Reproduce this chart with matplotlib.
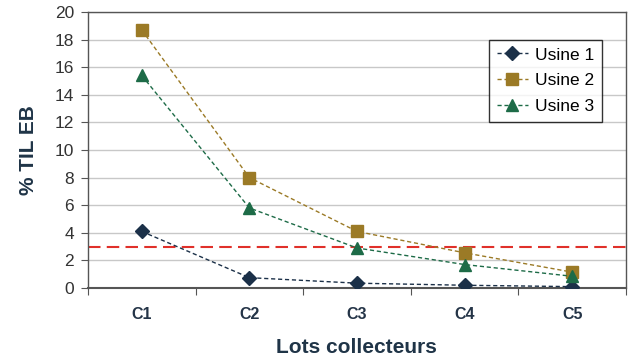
import matplotlib.pyplot as plt
from matplotlib.ticker import FixedLocator

lots = ["C1", "C2", "C3", "C4", "C5"]
usine1 = [4.1, 0.75, 0.35, 0.2, 0.1]
usine2 = [18.7, 8.0, 4.1, 2.55, 1.15]
usine3 = [15.4, 5.8, 2.9, 1.7, 0.85]
seuil = 3

plt.rcParams['font.family'] = ['Liberation Sans', 'DejaVu Sans']

fig = plt.figure(figsize=(6.28, 3.58), dpi=100)
ax = fig.add_axes([0.140, 0.1955, 0.857, 0.771])

x = list(range(1, len(lots) + 1))
ax.plot(x, usine1, ls=(0, (3, 2)), lw=1, color="#1b3048", marker="D", ms=7,
        label="Usine 1", zorder=3)
ax.plot(x, usine2, ls=(0, (3, 2)), lw=1, color="#9b7a26", marker="s", ms=9,
        label="Usine 2", zorder=3)
ax.plot(x, usine3, ls=(0, (3, 2)), lw=1, color="#1d6b47", marker="^", ms=8,
        label="Usine 3", zorder=3)
ax.axhline(seuil, color="#e0302a", ls=(0, (6, 3)), lw=1.5, zorder=2)

ax.set_xlim(0.5, len(lots) + 0.5)
ax.set_ylim(0, 20)
ax.set_yticks(range(0, 21, 2))
ax.yaxis.grid(True, color="#c8c8c8", lw=1)
ax.set_axisbelow(True)

# ticks at category boundaries, labels centred
ax.xaxis.set_major_locator(FixedLocator([i + 0.5 for i in range(len(lots) + 1)]))
ax.xaxis.set_major_formatter(plt.NullFormatter())
ax.xaxis.set_minor_locator(FixedLocator(x))
ax.set_xticklabels(lots, minor=True)
ax.tick_params(axis="x", which="major", length=5, direction="out", color="#555555")
ax.tick_params(axis="x", which="minor", length=0, pad=14, labelsize=11.5,
               labelcolor="#243447")
for lab in ax.get_xticklabels(minor=True):
    lab.set_fontweight("bold")
ax.tick_params(axis="y", length=5, labelsize=12.5, labelcolor="#333333",
               color="#555555", pad=5)

for s in ax.spines.values():
    s.set_color("#555555")
    s.set_linewidth(1)
ax.spines["bottom"].set_linewidth(1.5)

ax.set_ylabel("% TIL EB", fontsize=15, fontweight="bold", color="#1f3447",
              labelpad=12)
fig.text(0.567, 0.03, "Lots collecteurs", fontsize=15, fontweight="bold",
         color="#1f3447", ha="center", va="center")

leg = ax.legend(loc="upper right", bbox_to_anchor=(0.955, 0.90), fontsize=12.5,
                frameon=True, fancybox=False, handlelength=1.8,
                borderpad=0.45, labelspacing=0.6, handletextpad=0.4,
                borderaxespad=0)
leg.get_frame().set_edgecolor("#000000")
leg.get_frame().set_linewidth(1)

fig.savefig("out.png", dpi=100)
plt.close(fig)
